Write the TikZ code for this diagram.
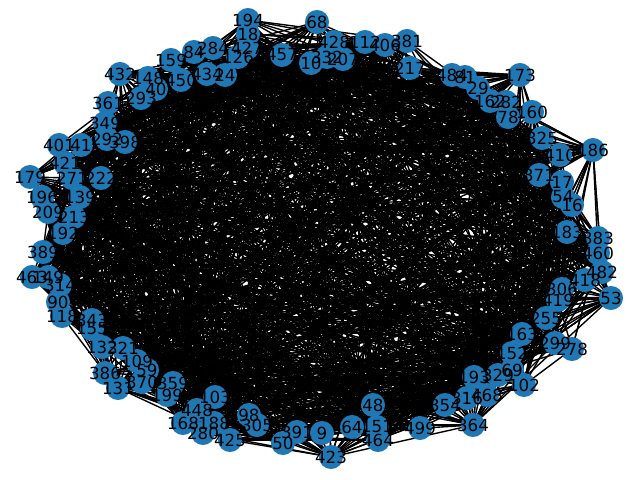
\documentclass[tikz,border=0pt]{standalone}
\usepackage{fontspec}
\setmainfont{DejaVu Sans}
\definecolor{nxblue}{RGB}{31,119,180}
\pgfdeclarelayer{background}
\pgfdeclarelayer{foreground}
\pgfsetlayers{background,main,foreground}
\tikzset{
  vtx/.style={circle,fill=nxblue,draw=none,minimum size=17.32pt,inner sep=0pt},
  vlab/.style={inner sep=0pt,font=\fontsize{12}{14}\selectfont,text=black},
  edgeline/.style={draw=black,line width=1pt}
}
\begin{document}
\begin{tikzpicture}[x=0.72pt,y=-0.72pt]
\useasboundingbox (0,0) rectangle (640,480);
\foreach \x/\y/\l [count=\i] in {
248/20/194, 317/22/68, 248/34/18, 213/48/284, 194/52/84, 247/48/427, 238/57/126,
171/60/159, 282/55/457, 334/42/428, 365/42/112, 385/45/406, 407/41/381, 311/63/10,
327/57/332, 343/59/207, 207/74/434, 225/75/24, 181/80/450, 148/78/148, 156/89/40,
141/98/293, 120/74/432, 108/103/361, 410/68/217, 452/75/484, 465/77/81, 478/88/29,
520/75/173, 490/101/162, 506/102/282, 508/117/78, 532/112/160, 542/138/325,
560/155/410, 593/150/186, 539/175/371, 562/182/17, 563/197/54, 572/205/16,
105/123/349, 107/139/292, 125/142/398, 59/145/401, 81/145/41, 65/163/421,
30/177/179, 72/178/271, 101/178/222, 42/197/196, 80/197/139, 48/212/209,
74/217/213, 63/233/192, 43/252/389, 32/277/463, 48/277/149, 60/285/314,
58/302/90, 62/316/118, 92/320/343, 92/329/155, 102/347/132, 123/348/321,
137/361/109, 105/373/386, 147/370/59, 142/382/370, 118/388/131, 173/383/359,
167/395/199, 215/397/103, 197/410/448, 183/423/168, 214/423/188, 203/433/280,
230/440/425, 249/415/98, 257/425/305, 297/432/391, 283/443/50, 322/433/9,
331/457/423, 352/427/64, 377/427/151, 378/440/464, 373/405/48, 420/428/499,
445/405/354, 467/398/316, 487/395/468, 473/425/364, 474/377/193, 498/375/329,
512/370/69, 524/385/102, 512/353/152, 522/334/163, 555/343/299, 572/349/278,
546/318/255, 558/300/419, 562/289/306, 585/280/418, 611/298/53, 602/272/482,
598/253/460, 598/238/383, 567/232/183}
{
  \node[vtx] (n\i) at (\x,\y) {};
  \begin{pgfonlayer}{foreground}
    \node[vlab] (t\i) at (n\i) {\l};
  \end{pgfonlayer}
}
\begin{pgfonlayer}{background}
\pgfmathsetseed{7}
\foreach \k in {1,...,1600}{
  \pgfmathtruncatemacro{\a}{random(1,109)}
  \pgfmathtruncatemacro{\b}{random(1,109)}
  \draw[edgeline] (n\a.center) -- (n\b.center);
}
\end{pgfonlayer}
\end{tikzpicture}
\end{document}
